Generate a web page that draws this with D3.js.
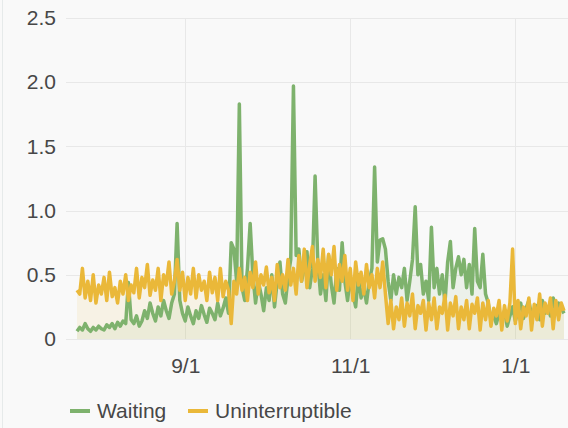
<!DOCTYPE html>
<html>
<head>
<meta charset="utf-8">
<script src="https://cdn.jsdelivr.net/npm/d3@7"></script>
<style>
  html, body { margin: 0; padding: 0; background: #f9f9f9; }
  svg { display: block; font-family: "Liberation Sans", Arial, Helvetica, sans-serif; }
</style>
</head>
<body>
<div id="chart"></div>
<script>
// daily samples starting 2016-07-23
var startDate = new Date(2016, 6, 23);

var waiting = [
  0.06,0.09,0.07,0.12,0.08,0.06,0.09,0.07,0.10,0.08,
  0.07,0.11,0.09,0.12,0.08,0.13,0.10,0.14,0.12,0.44,
  0.15,0.12,0.18,0.10,0.14,0.22,0.16,0.28,0.20,0.14,
  0.25,0.18,0.30,0.22,0.16,0.28,0.35,0.90,0.30,0.20,
  0.14,0.25,0.18,0.12,0.22,0.16,0.26,0.19,0.13,0.24,
  0.20,0.15,0.28,0.18,0.24,0.32,0.20,0.75,0.70,0.45,
  1.83,0.40,0.30,0.55,0.90,0.50,0.28,0.45,0.35,0.22,
  0.40,0.30,0.50,0.25,0.45,0.60,0.35,0.28,0.48,0.62,
  1.97,0.65,0.70,0.45,0.55,0.68,0.40,0.55,1.27,0.60,
  0.35,0.50,0.30,0.65,0.42,0.28,0.55,0.38,0.75,0.45,
  0.30,0.48,0.35,0.25,0.50,0.32,0.40,0.28,0.45,0.55,
  1.34,0.60,0.77,0.78,0.70,0.45,0.30,0.50,0.35,0.48,
  0.40,0.55,0.30,0.45,0.62,1.03,0.50,0.58,0.35,0.45,
  0.30,0.87,0.40,0.55,0.35,0.50,0.28,0.60,0.76,0.40,
  0.55,0.64,0.50,0.62,0.40,0.58,0.35,0.86,0.45,0.40,
  0.66,0.35,0.28,0.15,0.18,0.12,0.20,0.15,0.22,0.10,
  0.18,0.25,0.14,0.22,0.28,0.16,0.24,0.30,0.18,0.22,
  0.26,0.15,0.30,0.20,0.25,0.18,0.32,0.22,0.28,0.24,
  0.20
];

var uninterruptible = [
  0.38,0.35,0.55,0.32,0.45,0.30,0.50,0.28,0.42,0.35,
  0.48,0.30,0.52,0.33,0.40,0.28,0.45,0.35,0.50,0.30,
  0.42,0.36,0.55,0.32,0.48,0.40,0.58,0.34,0.46,0.38,
  0.55,0.30,0.50,0.42,0.60,0.35,0.45,0.62,0.38,0.52,
  0.30,0.48,0.35,0.55,0.32,0.50,0.38,0.45,0.30,0.52,
  0.36,0.48,0.30,0.55,0.33,0.45,0.38,0.12,0.45,0.35,
  0.55,0.38,0.48,0.30,0.52,0.40,0.60,0.35,0.50,0.42,
  0.56,0.36,0.48,0.30,0.58,0.40,0.50,0.38,0.62,0.42,
  0.55,0.35,0.65,0.45,0.70,0.40,0.58,0.72,0.45,0.62,
  0.48,0.70,0.40,0.66,0.50,0.72,0.38,0.58,0.45,0.65,
  0.38,0.55,0.30,0.60,0.42,0.52,0.35,0.58,0.40,0.50,
  0.32,0.55,0.40,0.60,0.35,0.12,0.30,0.08,0.25,0.15,
  0.32,0.10,0.28,0.18,0.35,0.08,0.26,0.20,0.30,0.07,
  0.28,0.15,0.32,0.08,0.25,0.20,0.34,0.07,0.28,0.18,
  0.33,0.08,0.25,0.15,0.30,0.08,0.27,0.20,0.32,0.07,
  0.28,0.15,0.30,0.10,0.24,0.18,0.30,0.07,0.26,0.14,
  0.28,0.70,0.12,0.30,0.08,0.25,0.18,0.32,0.07,0.27,
  0.15,0.35,0.10,0.28,0.20,0.32,0.08,0.30,0.15,0.28,
  0.22
];

var xTicks = [new Date(2016, 8, 1), new Date(2016, 10, 1), new Date(2017, 0, 1)];
var yTicks = [0, 0.5, 1.0, 1.5, 2.0, 2.5];
var seriesNames = ["Waiting", "Uninterruptible"];
var seriesColors = ["#7eb26d", "#eab839"];

var width = 568, height = 428;
var plotLeft = 66, plotRight = 568, plotTop = 18, plotBottom = 339;

var svg = d3.select("#chart").append("svg")
  .attr("width", width)
  .attr("height", height);

// faint panel edge
svg.append("line")
  .attr("x1", 2.5).attr("x2", 2.5).attr("y1", 0).attr("y2", height)
  .attr("stroke", "#e6eaea");

function dayOf(i) { return d3.timeDay.offset(startDate, i); }

var x = d3.scaleTime()
  .domain([startDate, dayOf(waiting.length - 1)])
  .range([77, 564]);

var y = d3.scaleLinear()
  .domain([0, 2.5])
  .range([plotBottom, plotTop]);

// grid
svg.append("g").selectAll("line")
  .data(yTicks).enter().append("line")
  .attr("x1", plotLeft).attr("x2", plotRight)
  .attr("y1", d => Math.round(y(d)) + 0.5).attr("y2", d => Math.round(y(d)) + 0.5)
  .attr("stroke", "#e8e8e8");

svg.append("g").selectAll("line")
  .data(xTicks).enter().append("line")
  .attr("x1", d => Math.round(x(d)) + 0.5).attr("x2", d => Math.round(x(d)) + 0.5)
  .attr("y1", plotTop).attr("y2", plotBottom)
  .attr("stroke", "#e8e8e8");

// axis labels
var yAxis = d3.axisLeft(y).tickValues(yTicks)
  .tickFormat(d => d === 0 ? "0" : d3.format(".1f")(d))
  .tickSize(0).tickPadding(0);
var yg = svg.append("g").attr("transform", "translate(56,0)").call(yAxis);
yg.select(".domain").remove();
yg.selectAll("text").attr("font-size", 21).attr("fill", "#474747").attr("font-family", "inherit");

var xAxis = d3.axisBottom(x).tickValues(xTicks)
  .tickFormat(d3.timeFormat("%-m/%-d"))
  .tickSize(0).tickPadding(0);
var xg = svg.append("g").attr("transform", "translate(0,358)").call(xAxis);
xg.select(".domain").remove();
xg.selectAll("text").attr("font-size", 21).attr("fill", "#474747").attr("font-family", "inherit");

// series
var series = [waiting, uninterruptible];

var area = d3.area()
  .x((d, i) => x(dayOf(i)))
  .y0(y(0))
  .y1(d => y(d));

var line = d3.line()
  .x((d, i) => x(dayOf(i)))
  .y(d => y(d));

series.forEach(function (s, k) {
  svg.append("path")
    .datum(s)
    .attr("d", area)
    .attr("fill", seriesColors[k])
    .attr("fill-opacity", 0.1);
});

series.forEach(function (s, k) {
  svg.append("path")
    .datum(s)
    .attr("d", line)
    .attr("fill", "none")
    .attr("stroke", seriesColors[k])
    .attr("stroke-width", 3.5)
    .attr("stroke-linejoin", "round");
});

// legend
var legend = svg.append("g").attr("transform", "translate(70,411)");
var legendX = [0, 118];
seriesNames.forEach(function (name, k) {
  var g = legend.append("g").attr("transform", "translate(" + legendX[k] + ",0)");
  g.append("line")
    .attr("x1", 0).attr("x2", 20).attr("y1", 0).attr("y2", 0)
    .attr("stroke", seriesColors[k]).attr("stroke-width", 4);
  g.append("text")
    .attr("x", 27).attr("y", 7)
    .attr("font-size", 21).attr("fill", "#474747")
    .text(name);
});
</script>
</body>
</html>
